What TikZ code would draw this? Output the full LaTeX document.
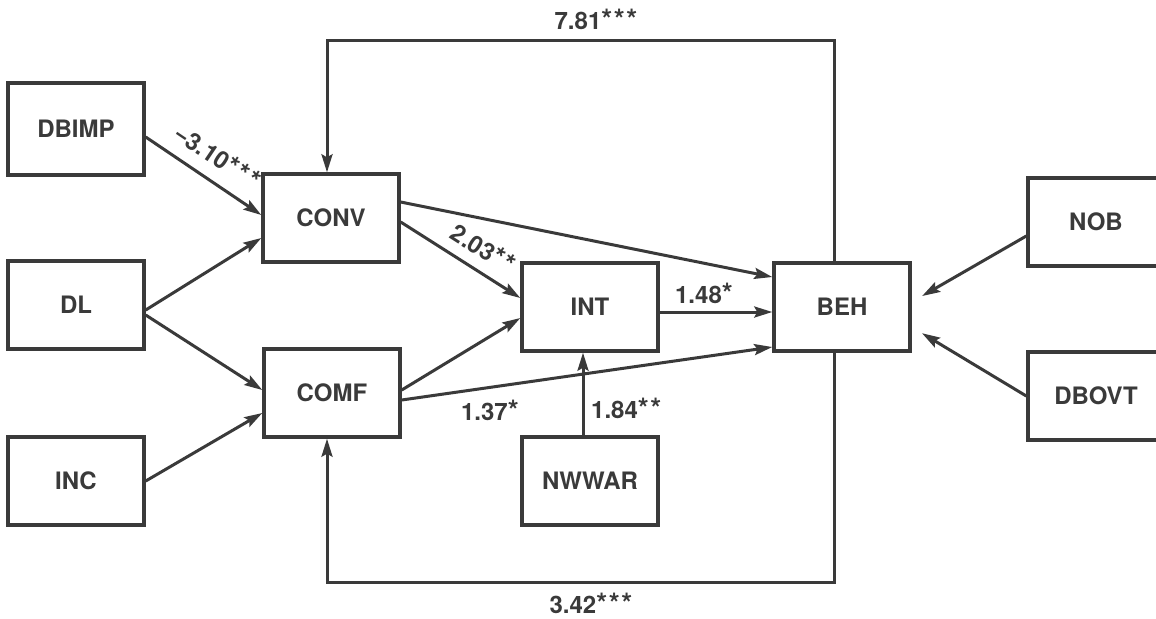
\documentclass[tikz,border=0pt]{standalone}
\usepackage{fontspec}
\setmainfont{TeX Gyre Heros}
\usepackage{tikz}
\usetikzlibrary{arrows.meta,positioning}
\usepackage{xcolor}
\definecolor{ink}{HTML}{3A3A3A}
\newcommand{\ask}{{\fontsize{14}{14}\selectfont*}\kern0.8pt}

\begin{document}
\begin{tikzpicture}[x=0.5pt,y=-0.5pt,
  box/.style={draw=ink,line width=1.7pt,minimum width=68pt,minimum height=44pt,inner sep=0pt,
    font=\bfseries\fontsize{12}{14}\selectfont,text=ink},
  arr/.style={-{Stealth[length=9pt,width=5.5pt,inset=1.5pt]},line width=1.5pt,draw=ink},
  lbl/.style={font=\bfseries\fontsize{12}{14}\selectfont,text=ink},
]
  \clip (0,0) rectangle (1156,618);

  % left column
  \node[box,minimum height=46pt] (dbimp) at (76,129) {DBIMP};
  \node[box] (dl) at (76,305) {DL};
  \node[box] (inc) at (76,481) {INC};

  % middle
  \node[box] (conv) at (331,218) {CONV};
  \node[box] (comf) at (332,393) {COMF};
  \node[box] (int) at (590,307) {INT};
  \node[box] (nwwar) at (590,481) {NWWAR};
  \node[box] (beh) at (842,307) {BEH};

  % right column
  \node[box] (nob) at (1096,222) {NOB};
  \node[box] (dbovt) at (1096,396) {DBOVT};

  \coordinate (fbtop) at (327,40);
  \coordinate (fbbot) at (327,582);

  \draw[arr] ([yshift=-4pt]dbimp.east) -- node[lbl,sloped,above=3pt,pos=0.51] {−3.10\ask\ask\ask} ([yshift=1.5pt]conv.west);
  \draw[arr] ([yshift=-2.5pt]dl.east) -- ([yshift=-10pt]conv.west);
  \draw[arr] ([yshift=-5pt]dl.east) -- ([yshift=1.5pt]comf.west);
  \draw[arr] (inc.east) -- ([yshift=-10pt]comf.west);

  \draw[arr] ([yshift=8pt]conv.east) -- ([yshift=15pt]beh.west);
  \draw[arr] ([yshift=-2pt]conv.east) -- node[lbl,sloped,above=2pt,pos=0.6] {2.03\ask\ask} ([yshift=4.5pt]int.west);
  \draw[arr] ([yshift=1.5pt]comf.east) -- ([yshift=-5.5pt]int.west);
  \draw[arr] ([yshift=-3.5pt]comf.east) -- node[lbl,below=2.5pt,pos=0.24] {1.37\ask} ([yshift=-20pt]beh.west);
  \draw[arr] ([yshift=-2.5pt]int.east) -- node[lbl,above,pos=0.4] {1.48\ask} ([yshift=-2.5pt]beh.west);
  \draw[arr] ([xshift=-3.5pt]nwwar.north) -- node[lbl,right,pos=0.33] {1.84\ask\ask} ([xshift=-3.5pt]int.south);

  \draw[arr,shorten >=6pt] ([yshift=-7pt]nob.west) -- ([yshift=2.5pt]beh.east);
  \draw[arr,shorten >=6pt] (dbovt.west) -- ([yshift=-10pt]beh.east);

  % feedback loops
  \draw[arr] ([xshift=-4pt]beh.north) |- node[lbl,above=1pt,pos=0.734] {7.81\ask\ask\ask} (fbtop) -- ([xshift=-2pt]conv.north);
  \draw[arr] ([xshift=-4pt]beh.south) |- node[lbl,below=1.5pt,pos=0.739] {3.42\ask\ask\ask} (fbbot) -- ([xshift=-2.5pt]comf.south);
\end{tikzpicture}
\end{document}
